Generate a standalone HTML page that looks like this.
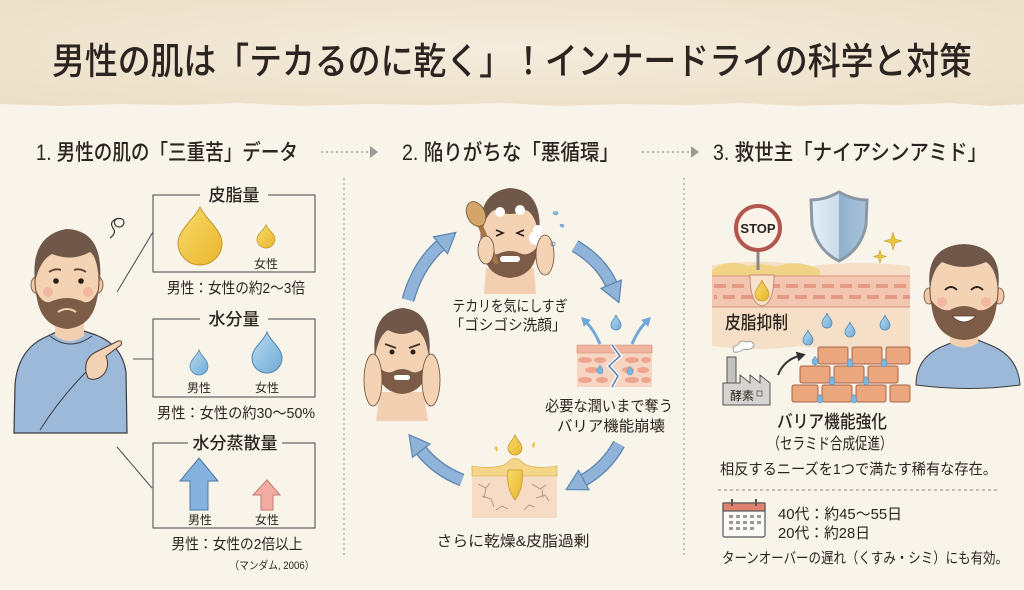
<!DOCTYPE html>
<html><head><meta charset="utf-8">
<style>
html,body{margin:0;padding:0;background:#f9f4ea;}
body{width:1024px;height:590px;overflow:hidden;}
svg{display:block;}
text{font-family:"Liberation Sans","Noto Sans CJK JP",sans-serif;fill:#2b2420;}
</style></head>
<body>
<svg width="1024" height="590" viewBox="0 0 1024 590" xmlns="http://www.w3.org/2000/svg">
<defs>
  <radialGradient id="hdr" cx="50%" cy="45%" r="70%">
    <stop offset="0" stop-color="#f5ecdd"/>
    <stop offset="1" stop-color="#ecdfc7"/>
  </radialGradient>
  <linearGradient id="yel" x1="0" y1="0" x2="1" y2="1">
    <stop offset="0" stop-color="#f8dc6a"/><stop offset="1" stop-color="#e9b52e"/>
  </linearGradient>
  <linearGradient id="blu" x1="0" y1="0" x2="1" y2="1">
    <stop offset="0" stop-color="#b9dcf2"/><stop offset="1" stop-color="#6eaad6"/>
  </linearGradient>
  <linearGradient id="shd" x1="0" y1="0" x2="1" y2="0">
    <stop offset="0" stop-color="#e4eff7"/><stop offset="0.5" stop-color="#c9dceb"/><stop offset="0.5" stop-color="#8fb1cc"/><stop offset="1" stop-color="#a9c4da"/>
  </linearGradient>
  <marker id="ah" markerWidth="30" markerHeight="30" refX="3" refY="12" orient="auto" markerUnits="userSpaceOnUse">
    <path d="M1,1 L21,12 L1,23 Z" fill="#8fb3d9" stroke="#5d84ad" stroke-width="1.2"/>
  </marker>
  <marker id="ahs" markerWidth="12" markerHeight="12" refX="2" refY="5" orient="auto" markerUnits="userSpaceOnUse">
    <path d="M0,0 L9,5 L0,10 Z" fill="#6fa8d8"/>
  </marker>
  <marker id="ahk" markerWidth="12" markerHeight="12" refX="2" refY="5" orient="auto" markerUnits="userSpaceOnUse">
    <path d="M0,0 L9,5 L0,10 Z" fill="#333"/>
  </marker>
  <marker id="ahg" markerWidth="12" markerHeight="14" refX="1" refY="6" orient="auto" markerUnits="userSpaceOnUse">
    <path d="M0,0 L8,6 L0,12 Z" fill="#9a9a9a"/>
  </marker>
  <path id="sd" d="M0 0 c1 4 5 6 5 10 a5 5 0 0 1 -10 0 c0 -4 4 -6 5 -10z" fill="url(#blu)" stroke="#4f86b3" stroke-width="0.8"/>
  <path id="td" d="M0 0 c1 2 3 3 3 6 a3 3 0 0 1 -6 0 c0 -3 2 -4 3 -6z" fill="#7bb6e0" stroke="#4f86b3" stroke-width="0.5"/>
</defs>

<!-- background -->
<rect x="0" y="0" width="1024" height="590" fill="#f9f4ea"/>
<path d="M0 0 H1024 V104 L990 106 L950 103 L900 105 L860 104 L800 106 L740 103 L690 105 L620 104 L560 106 L500 103 L430 105 L370 104 L300 106 L240 103 L180 105 L120 104 L60 106 L0 104 Z" fill="url(#hdr)"/>

<!-- title -->
<text x="512" y="74" text-anchor="middle" font-size="37" font-weight="500" textLength="920" lengthAdjust="spacingAndGlyphs">男性の肌は「テカるのに乾く」！インナードライの科学と対策</text>

<!-- section headings -->
<text x="36" y="160" font-size="22" font-weight="500" textLength="262" lengthAdjust="spacingAndGlyphs">1. 男性の肌の「三重苦」データ</text>
<text x="402" y="160" font-size="22" font-weight="500" textLength="217" lengthAdjust="spacingAndGlyphs">2. 陥りがちな「悪循環」</text>
<text x="713" y="160" font-size="22" font-weight="500" textLength="274" lengthAdjust="spacingAndGlyphs">3. 救世主「ナイアシンアミド」</text>
<line x1="321" y1="152" x2="371" y2="152" stroke="#9a9a9a" stroke-width="1.6" stroke-dasharray="2 3" marker-end="url(#ahg)"/>
<line x1="642" y1="152" x2="692" y2="152" stroke="#9a9a9a" stroke-width="1.6" stroke-dasharray="2 3" marker-end="url(#ahg)"/>

<!-- vertical dividers -->
<line x1="344" y1="178" x2="344" y2="558" stroke="#a8a29a" stroke-width="1.2" stroke-dasharray="2 3"/>
<line x1="684" y1="178" x2="684" y2="558" stroke="#a8a29a" stroke-width="1.2" stroke-dasharray="2 3"/>

<!-- ========== COLUMN 1 ========== -->
<!-- man 1 -->
<g>
  <path d="M14 433 L15 385 Q18 348 48 336 L58 331 Q70 344 84 331 L96 335 Q122 345 126 372 L127 433 Z" fill="#9db9da" stroke="#3a3a3a" stroke-width="1.2"/>
  <path d="M50 336 Q70 352 92 336" fill="none" stroke="#3a3a3a" stroke-width="1"/>
  <path d="M55 315 L55 336 Q70 346 84 336 L84 315 Z" fill="#f2cfb0"/>
  <ellipse cx="36" cy="285" rx="5" ry="8" fill="#f0c8a6" stroke="#6a4a3a" stroke-width="0.8"/>
  <ellipse cx="98" cy="285" rx="5" ry="8" fill="#f0c8a6" stroke="#6a4a3a" stroke-width="0.8"/>
  <ellipse cx="67" cy="280" rx="32" ry="46" fill="#f4d2b4" stroke="#6a4a3a" stroke-width="1"/>
  <path d="M35 282 Q30 236 66 229 Q104 230 100 282 Q98 258 90 252 Q72 262 52 254 Q40 260 35 282 Z" fill="#6f5849"/>
  <path d="M36 290 Q38 326 67 329 Q96 326 98 290 Q92 304 84 302 Q67 294 50 302 Q42 304 36 290 Z" fill="#7d5c47"/>
  <path d="M58 312 Q67 306 76 312" fill="none" stroke="#f4d2b4" stroke-width="2"/>
  <circle cx="56" cy="281" r="2.8" fill="#2a1e18"/>
  <circle cx="81" cy="281" r="2.8" fill="#2a1e18"/>
  <path d="M49 272 Q55 268 61 270" fill="none" stroke="#5a4032" stroke-width="1.8"/>
  <path d="M74 270 Q80 268 86 272" fill="none" stroke="#5a4032" stroke-width="1.8"/>
  <circle cx="48" cy="292" r="5" fill="#f1aa98" opacity="0.7"/>
  <circle cx="88" cy="292" r="5" fill="#f1aa98" opacity="0.7"/>
  <path d="M40 430 Q60 398 88 370" fill="none" stroke="#3a3a3a" stroke-width="1"/>
  <path d="M86 372 Q84 358 96 352 L118 341 Q123 340 121 345 L106 356 Q110 366 104 374 Q96 382 88 378 Z" fill="#f4d2b4" stroke="#4a3a30" stroke-width="1"/>
  <path d="M118 218 q-6 3 -2 8 q6 3 8 -3 q0 -6 -8 -4 q-7 3 -3 9 q4 5 -3 10" fill="none" stroke="#333" stroke-width="1.2"/>
</g>

<!-- connectors -->
<line x1="117" y1="292" x2="153" y2="232" stroke="#555" stroke-width="1.1"/>
<line x1="133" y1="359" x2="153" y2="359" stroke="#555" stroke-width="1.1"/>
<line x1="117" y1="447" x2="152" y2="488" stroke="#555" stroke-width="1.1"/>

<!-- box 1 -->
<rect x="153" y="195" width="162" height="77" fill="none" stroke="#555" stroke-width="1.1"/>
<rect x="200" y="186" width="68" height="18" fill="#f9f4ea"/>
<text x="234" y="201" text-anchor="middle" font-size="17" font-weight="500">皮脂量</text>
<path d="M200 207 C204 217 222 230 222 243 A22 22 0 0 1 178 243 C178 230 196 217 200 207Z" fill="url(#yel)" stroke="#c4962a" stroke-width="1"/>
<path d="M266 225 C268 230 275 234 275 239 A9 9 0 0 1 257 239 C257 234 264 230 266 225Z" fill="url(#yel)" stroke="#c4962a" stroke-width="0.8"/>
<text x="266" y="268" text-anchor="middle" font-size="12">女性</text>
<text x="236" y="293" text-anchor="middle" font-size="15" textLength="138" lengthAdjust="spacingAndGlyphs">男性：女性の約2〜3倍</text>

<!-- box 2 -->
<rect x="153" y="319" width="162" height="78" fill="none" stroke="#555" stroke-width="1.1"/>
<rect x="200" y="310" width="68" height="18" fill="#f9f4ea"/>
<text x="234" y="325" text-anchor="middle" font-size="17" font-weight="500">水分量</text>
<path d="M199 350 C201 356 208 360 208 366 A9 9 0 0 1 190 366 C190 360 197 356 199 350Z" fill="url(#blu)" stroke="#4f86b3" stroke-width="0.8"/>
<path d="M267 332 C270 341 282 348 282 358 A15 15 0 0 1 252 358 C252 348 264 341 267 332Z" fill="url(#blu)" stroke="#4f86b3" stroke-width="1"/>
<text x="199" y="392" text-anchor="middle" font-size="12">男性</text>
<text x="267" y="392" text-anchor="middle" font-size="12">女性</text>
<text x="236" y="418" text-anchor="middle" font-size="15" textLength="158" lengthAdjust="spacingAndGlyphs">男性：女性の約30〜50%</text>

<!-- box 3 -->
<rect x="153" y="443" width="162" height="85" fill="none" stroke="#555" stroke-width="1.1"/>
<rect x="188" y="434" width="94" height="18" fill="#f9f4ea"/>
<text x="235" y="449" text-anchor="middle" font-size="17" font-weight="500">水分蒸散量</text>
<path d="M199 458 L218 481 L208 481 L208 510 L190 510 L190 481 L180 481 Z" fill="#86b3dd" stroke="#4a78a8" stroke-width="1"/>
<path d="M267 480 L280 495 L273 495 L273 510 L261 510 L261 495 L253 495 Z" fill="#f2aca2" stroke="#c07a70" stroke-width="1"/>
<text x="200" y="524" text-anchor="middle" font-size="12">男性</text>
<text x="267" y="524" text-anchor="middle" font-size="12">女性</text>
<text x="237" y="549" text-anchor="middle" font-size="15" textLength="131" lengthAdjust="spacingAndGlyphs">男性：女性の2倍以上</text>
<text x="272" y="569" text-anchor="middle" font-size="11" textLength="85" lengthAdjust="spacingAndGlyphs">（マンダム, 2006）</text>

<!-- ========== COLUMN 2 ========== -->
<!-- cycle arrows -->
<g fill="none">
  <path d="M408 300 Q418 264 442 244" stroke="#5d84ad" stroke-width="13"/>
  <path d="M408 300 Q418 264 442 244" stroke="#8fb3d9" stroke-width="10.5" marker-end="url(#ah)"/>
  <path d="M575 246 Q602 262 612 286" stroke="#5d84ad" stroke-width="13"/>
  <path d="M575 246 Q602 262 612 286" stroke="#8fb3d9" stroke-width="10.5" marker-end="url(#ah)"/>
  <path d="M619 444 Q606 468 582 481" stroke="#5d84ad" stroke-width="13"/>
  <path d="M619 444 Q606 468 582 481" stroke="#8fb3d9" stroke-width="10.5" marker-end="url(#ah)"/>
  <path d="M462 480 Q436 470 420 449" stroke="#5d84ad" stroke-width="13"/>
  <path d="M462 480 Q436 470 420 449" stroke="#8fb3d9" stroke-width="10.5" marker-end="url(#ah)"/>
</g>

<!-- top man (washing) -->
<g>
  <path d="M486 268 L484 294 L536 294 L534 268 Z" fill="#f2cfb0"/>
  <ellipse cx="510" cy="236" rx="29" ry="37" fill="#f4d2b4" stroke="#6a4a3a" stroke-width="1"/>
  <path d="M481 238 Q476 192 510 188 Q544 190 539 238 Q536 214 526 210 Q510 218 494 210 Q484 216 481 238 Z" fill="#6f5849"/>
  <path d="M482 246 Q484 276 510 278 Q536 276 538 246 Q530 256 522 254 Q510 248 498 254 Q490 256 482 246 Z" fill="#7d5c47"/>
  <rect x="500" y="256" width="20" height="6" rx="3" fill="#fff"/>
  <path d="M496 230 l7 3 l-7 3 M524 230 l-7 3 l7 3" fill="none" stroke="#2a1e18" stroke-width="1.6"/>
  <circle cx="500" cy="212" r="5" fill="#fff"/><circle cx="520" cy="210" r="5" fill="#fff"/>
  <circle cx="536" cy="238" r="7" fill="#fff"/><circle cx="542" cy="246" r="6" fill="#fff"/><circle cx="538" cy="230" r="5" fill="#fff"/>
  <ellipse cx="545" cy="255" rx="9" ry="20" fill="#f4d2b4" stroke="#6a4a3a" stroke-width="0.8"/>
  <line x1="480" y1="225" x2="496" y2="262" stroke="#a57444" stroke-width="5" stroke-linecap="round"/>
  <ellipse cx="476" cy="214" rx="9" ry="13" transform="rotate(-25 476 214)" fill="#d3a56a" stroke="#7a5636" stroke-width="0.8"/>
  <ellipse cx="486" cy="250" rx="8" ry="14" fill="#f4d2b4" stroke="#6a4a3a" stroke-width="0.8"/>
  <path d="M553 213 q3 -3 5 0 q-2 4 -5 0Z M560 225 q3 -2 4 1 q-2 3 -4 -1Z" fill="#8fc3e6" stroke="#4f86b3" stroke-width="0.6"/>
  <circle cx="553" cy="244" r="2" fill="none" stroke="#4f86b3" stroke-width="0.8"/>
</g>
<text x="510" y="311" text-anchor="middle" font-size="15" textLength="115" lengthAdjust="spacingAndGlyphs">テカリを気にしすぎ</text>
<text x="508" y="330" text-anchor="middle" font-size="15" textLength="117" lengthAdjust="spacingAndGlyphs">「ゴシゴシ洗顔」</text>

<!-- right: cracked skin -->
<g>
  <path d="M600 344 Q594 330 586 322" fill="none" stroke="#6fa8d8" stroke-width="3" marker-end="url(#ahs)"/>
  <path d="M632 344 Q638 330 646 322" fill="none" stroke="#6fa8d8" stroke-width="3" marker-end="url(#ahs)"/>
  <use href="#sd" x="616" y="315"/>
  <rect x="577" y="345" width="75" height="42" fill="#f6d6c2"/>
  <path d="M577 345 H652 V353 H577Z" fill="#f0b5a0" stroke="#d08a74" stroke-width="0.6"/>
  <g fill="#eea48e">
    <ellipse cx="585" cy="360" rx="7" ry="3"/><ellipse cx="600" cy="360" rx="6" ry="3"/><ellipse cx="632" cy="360" rx="7" ry="3"/><ellipse cx="646" cy="360" rx="5" ry="3"/>
    <ellipse cx="592" cy="370" rx="7" ry="3"/><ellipse cx="628" cy="370" rx="6" ry="3"/><ellipse cx="643" cy="370" rx="6" ry="3"/>
    <ellipse cx="585" cy="380" rx="7" ry="3"/><ellipse cx="602" cy="380" rx="6" ry="3"/><ellipse cx="632" cy="380" rx="7" ry="3"/><ellipse cx="646" cy="380" rx="5" ry="3"/>
  </g>
  <path d="M612 345 L620 356 L609 366 L618 376 L612 387" fill="none" stroke="#fff" stroke-width="4"/>
  <path d="M612 345 L620 356 L609 366 L618 376 L612 387" fill="none" stroke="#4f7fae" stroke-width="1.5"/>
  <use href="#td" x="600" y="365"/><use href="#td" x="630" y="366"/>
</g>
<text x="609" y="411" text-anchor="middle" font-size="15" textLength="128" lengthAdjust="spacingAndGlyphs">必要な潤いまで奪う</text>
<text x="611" y="431" text-anchor="middle" font-size="15" textLength="108" lengthAdjust="spacingAndGlyphs">バリア機能崩壊</text>

<!-- bottom: dry skin with sebum -->
<g>
  <path d="M515 435 c1.5 5 7 8 7 13 a7 7 0 0 1 -14 0 c0 -5 5.5 -8 7 -13z" fill="url(#yel)" stroke="#c4962a" stroke-width="0.8"/>
  <path d="M497 452 q-4 -4 -1 -6 q3 2 1 6Z M533 448 q4 -4 1 -6 q-3 2 -1 6Z" fill="#f0c440"/>
  <rect x="472" y="468" width="85" height="50" fill="#f6dcc4"/>
  <path d="M472 466 Q500 470 508 462 Q515 455 522 462 Q530 470 557 466 L557 476 L472 476Z" fill="#f5d58a" stroke="#d4a944" stroke-width="0.6"/>
  <path d="M508 470 Q506 488 515 500 Q524 488 522 470 Z" fill="url(#yel)" stroke="#c4962a" stroke-width="0.8"/>
  <g fill="none" stroke="#b58a6e" stroke-width="0.8">
    <path d="M478 484 l8 4 l4 -5 M482 496 l9 3 l3 8 M486 488 l-2 10"/>
    <path d="M532 484 l8 5 l6 -4 M536 498 l9 -3 l4 6 M542 489 l1 9"/>
    <path d="M496 510 l6 -4 l6 3 M524 510 l5 -5 l6 2"/>
  </g>
</g>
<text x="513" y="546" text-anchor="middle" font-size="15" textLength="153" lengthAdjust="spacingAndGlyphs">さらに乾燥&amp;皮脂過剰</text>

<!-- left man (hands on face) -->
<g>
  <path d="M380 392 L376 421 L428 421 L424 392 Z" fill="#f2cfb0"/>
  <ellipse cx="402" cy="355" rx="27" ry="35" fill="#f4d2b4" stroke="#6a4a3a" stroke-width="1"/>
  <path d="M375 358 Q370 312 402 308 Q434 310 429 358 Q426 334 416 330 Q402 338 388 330 Q378 336 375 358 Z" fill="#6f5849"/>
  <path d="M376 364 Q378 392 402 394 Q426 392 428 364 Q420 374 412 372 Q402 366 392 372 Q384 374 376 364 Z" fill="#7d5c47"/>
  <rect x="394" y="375" width="16" height="5" rx="2.5" fill="#fff"/>
  <circle cx="392" cy="352" r="2.5" fill="#2a1e18"/><circle cx="413" cy="352" r="2.5" fill="#2a1e18"/>
  <path d="M385 344 L396 348 M420 344 L409 348" stroke="#4a3428" stroke-width="1.8"/>
  <ellipse cx="373" cy="380" rx="9" ry="26" fill="#f4d2b4" stroke="#6a4a3a" stroke-width="0.8"/>
  <ellipse cx="431" cy="380" rx="9" ry="26" fill="#f4d2b4" stroke="#6a4a3a" stroke-width="0.8"/>
</g>

<!-- ========== COLUMN 3 ========== -->
<!-- skin cross-section -->
<path d="M712 265 Q760 258 810 266 Q860 260 910 266 L910 348 Q860 352 800 346 Q760 352 712 346 Z" fill="#f5dfc6"/>
<path d="M712 270 Q728 258 748 266 Q762 262 776 267 Q796 258 820 270 L820 277 L712 277Z" fill="#f1d386"/>
<rect x="712" y="276" width="198" height="31" fill="#f2c6b0"/>
<line x1="712" y1="276" x2="910" y2="276" stroke="#d6967e" stroke-width="1"/>
<line x1="714" y1="286" x2="910" y2="286" stroke="#e59a86" stroke-width="4" stroke-dasharray="12 6"/>
<line x1="714" y1="297" x2="910" y2="297" stroke="#e59a86" stroke-width="4" stroke-dasharray="12 6" stroke-dashoffset="9"/>
<line x1="712" y1="307" x2="910" y2="307" stroke="#d6967e" stroke-width="1"/>
<path d="M750 275 Q750 304 762 306 Q774 304 774 275 Z" fill="#f7e2cb" stroke="#c98a70" stroke-width="1"/>
<path d="M762 280 c1 5 7 9 7 14 a7 7 0 0 1 -14 0 c0 -5 6 -9 7 -14z" fill="url(#yel)" stroke="#c4962a" stroke-width="0.8"/>

<!-- stop sign -->
<line x1="758" y1="250" x2="758" y2="270" stroke="#888" stroke-width="3"/>
<circle cx="758" cy="228" r="22" fill="#fbf2ea" stroke="#b2574d" stroke-width="4"/>
<text x="758" y="233" text-anchor="middle" font-size="13" font-weight="bold" style="font-family:'Liberation Sans',sans-serif">STOP</text>

<!-- shield -->
<path d="M839 192 Q853 200 867 200 L866 225 Q861 250 839 261 Q817 250 812 225 L811 200 Q825 200 839 192 Z" fill="url(#shd)" stroke="#8a98a6" stroke-width="3"/>
<path d="M893 232 l2 7 l7 2 l-7 2 l-2 7 l-2 -7 l-7 -2 l7 -2z" fill="#e9c640" stroke="#b9962a" stroke-width="0.5"/>
<path d="M880 250 l1.5 5 l5 1.5 l-5 1.5 l-1.5 5 l-1.5 -5 l-5 -1.5 l5 -1.5z" fill="#e9c640" stroke="#b9962a" stroke-width="0.5"/>

<text x="725" y="329" font-size="18" font-weight="500" textLength="63" lengthAdjust="spacingAndGlyphs">皮脂抑制</text>

<!-- drops above bricks -->
<use href="#sd" x="827" y="313"/>
<use href="#sd" x="850" y="322"/>
<use href="#sd" x="885" y="315"/>
<use href="#sd" x="808" y="330"/>

<!-- bricks -->
<g fill="#eaa67c" stroke="#a8644a" stroke-width="1">
  <rect x="818" y="347" width="30" height="17" rx="2"/><rect x="852" y="347" width="30" height="17" rx="2"/><rect x="886" y="347" width="24" height="17" rx="2"/>
  <rect x="800" y="366" width="30" height="17" rx="2"/><rect x="834" y="366" width="30" height="17" rx="2"/><rect x="868" y="366" width="30" height="17" rx="2"/>
  <rect x="792" y="385" width="26" height="17" rx="2"/><rect x="822" y="385" width="30" height="17" rx="2"/><rect x="856" y="385" width="30" height="17" rx="2"/><rect x="890" y="385" width="20" height="17" rx="2"/>
</g>
<use href="#td" x="815" y="356"/><use href="#td" x="850" y="358"/><use href="#td" x="884" y="358"/>
<use href="#td" x="832" y="376"/><use href="#td" x="866" y="376"/><use href="#td" x="820" y="394"/><use href="#td" x="854" y="394"/>

<!-- factory -->
<rect x="727" y="357" width="9" height="26" fill="#c4c2be" stroke="#555" stroke-width="1"/>
<path d="M734 352 q-3 -6 4 -7 q2 -6 9 -3 q6 -2 7 4 q-4 5 -10 3 q-5 4 -10 3z" fill="#fff" stroke="#888" stroke-width="0.8"/>
<path d="M723 405 L723 383 L740 383 L740 375 L750 383 L750 375 L760 383 L760 375 L770 383 L770 405 Z" fill="#d6d4d0" stroke="#555" stroke-width="1"/>
<text x="730" y="400" font-size="12">酵素</text>
<rect x="757" y="391" width="5" height="5" fill="none" stroke="#555" stroke-width="0.8"/>
<path d="M778 375 Q784 360 799 356" fill="none" stroke="#333" stroke-width="2" marker-end="url(#ahk)"/>

<text x="832" y="428" text-anchor="middle" font-size="18" font-weight="500" textLength="110" lengthAdjust="spacingAndGlyphs">バリア機能強化</text>
<text x="830" y="449" text-anchor="middle" font-size="16" textLength="125" lengthAdjust="spacingAndGlyphs">（セラミド合成促進）</text>
<text x="720" y="474" font-size="15" textLength="277" lengthAdjust="spacingAndGlyphs">相反するニーズを1つで満たす稀有な存在。</text>
<line x1="718" y1="490" x2="997" y2="490" stroke="#9a9a9a" stroke-width="1.2" stroke-dasharray="3 3"/>

<!-- calendar -->
<rect x="723" y="503" width="42" height="34" rx="2" fill="#fbfaf7" stroke="#555" stroke-width="1.2"/>
<rect x="723" y="503" width="42" height="8" fill="#e0806f" stroke="#555" stroke-width="1.2"/>
<line x1="732" y1="499" x2="732" y2="506" stroke="#555" stroke-width="2"/>
<line x1="756" y1="499" x2="756" y2="506" stroke="#555" stroke-width="2"/>
<g fill="#999">
  <rect x="729" y="515" width="4" height="3"/><rect x="736" y="515" width="4" height="3"/><rect x="743" y="515" width="4" height="3"/><rect x="750" y="515" width="4" height="3"/><rect x="757" y="515" width="4" height="3"/>
  <rect x="729" y="521" width="4" height="3"/><rect x="736" y="521" width="4" height="3"/><rect x="743" y="521" width="4" height="3"/><rect x="750" y="521" width="4" height="3"/><rect x="757" y="521" width="4" height="3"/>
  <rect x="729" y="527" width="4" height="3"/><rect x="736" y="527" width="4" height="3"/><rect x="743" y="527" width="4" height="3"/><rect x="750" y="527" width="4" height="3"/>
</g>
<text x="778" y="519" font-size="15" textLength="124" lengthAdjust="spacingAndGlyphs">40代：約45〜55日</text>
<text x="778" y="538" font-size="15" textLength="92" lengthAdjust="spacingAndGlyphs">20代：約28日</text>
<text x="722" y="563" font-size="15" textLength="286" lengthAdjust="spacingAndGlyphs">ターンオーバーの遅れ（くすみ・シミ）にも有効。</text>

<!-- happy man -->
<g>
  <path d="M916 385 Q916 356 946 345 L958 340 Q966 350 978 340 L990 345 Q1018 356 1020 385 Q970 392 916 385 Z" fill="#9db9da" stroke="#3a3a3a" stroke-width="1"/>
  <path d="M950 322 L950 343 Q964 352 978 343 L978 322 Z" fill="#f2cfb0"/>
  <ellipse cx="929" cy="296" rx="5" ry="8" fill="#f0c8a6" stroke="#6a4a3a" stroke-width="0.8"/>
  <ellipse cx="999" cy="296" rx="5" ry="8" fill="#f0c8a6" stroke="#6a4a3a" stroke-width="0.8"/>
  <ellipse cx="964" cy="290" rx="34" ry="45" fill="#f4d2b4" stroke="#6a4a3a" stroke-width="1"/>
  <path d="M930 290 Q924 246 964 244 Q1004 246 998 290 Q996 268 986 262 Q964 272 942 262 Q932 270 930 290 Z" fill="#6f5849"/>
  <path d="M931 300 Q933 338 964 340 Q995 338 997 300 Q988 312 978 310 Q964 302 950 310 Q940 312 931 300 Z" fill="#7d5c47"/>
  <path d="M952 316 Q964 328 976 316 Z" fill="#fff" stroke="#5a3a2a" stroke-width="0.8"/>
  <path d="M945 290 q6 -6 12 0 M971 290 q6 -6 12 0" fill="none" stroke="#2a1e18" stroke-width="1.8"/>
  <circle cx="942" cy="302" r="5" fill="#f1aa98" opacity="0.7"/>
  <circle cx="986" cy="302" r="5" fill="#f1aa98" opacity="0.7"/>
</g>
</svg>
</body></html>
